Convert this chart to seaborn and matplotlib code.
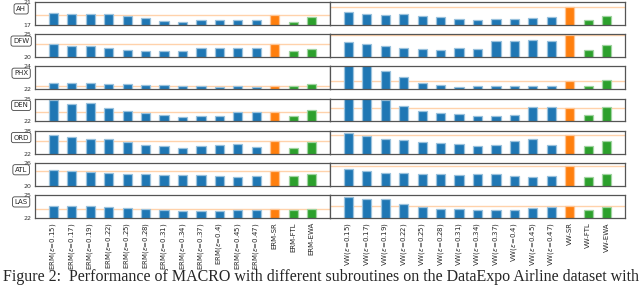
import matplotlib
matplotlib.use("Agg")
import matplotlib.pyplot as plt
import seaborn as sns
import numpy as np
from matplotlib.colors import to_rgb

sns.set_style("white")
plt.rcParams['font.family'] = ['DejaVu Sans']
plt.rcParams['mathtext.fontset'] = 'dejavusans'

eps = ["0.15", "0.17", "0.19", "0.22", "0.25", "0.28", "0.31", "0.34", "0.37", "0.4", "0.45", "0.47"]
erm_labels = ["ERM($\\epsilon$=" + e + ")" for e in eps] + ["ERM-SR", "ERM-FTL", "ERM-EWA"]
vw_labels = ["VW($\\epsilon$=" + e + ")" for e in eps] + ["VW-SR", "VW-FTL", "VW-EWA"]

airports = ["AH", "DFW", "PHX", "DEN", "ORD", "ATL", "LAS"]
ylims = [(17, 21), (20, 25), (22, 24), (22, 25), (22, 28), (20, 26), (22, 25)]

ERM_AH = [19.0, 18.89, 18.89, 18.89, 18.6, 18.2, 17.74, 17.57, 17.8, 17.8, 17.8, 17.86, 18.8, 17.57, 18.31]
VW_AH = [19.29, 18.89, 18.77, 18.83, 18.6, 18.43, 18.03, 17.8, 18.09, 18.09, 18.2, 18.31, 20.17, 17.86, 18.49]
ERM_DFW = [22.79, 22.43, 22.43, 21.93, 21.57, 21.43, 21.43, 21.29, 21.93, 21.93, 22.07, 22.07, 22.79, 21.29, 21.86]
VW_DFW = [23.21, 22.93, 22.5, 22.07, 21.79, 21.57, 21.93, 21.86, 23.43, 23.57, 23.64, 23.57, 24.85, 21.64, 22.64]
ERM_PHX = [22.56, 22.51, 22.51, 22.48, 22.42, 22.39, 22.34, 22.28, 22.31, 22.23, 22.25, 22.23, 22.32, 22.28, 22.42]
VW_PHX = [24.6, 24.4, 23.61, 23.04, 22.59, 22.34, 22.23, 22.28, 22.25, 22.25, 22.25, 22.25, 22.71, 22.28, 22.82]
ERM_DEN = [24.79, 24.32, 24.45, 23.77, 23.39, 23.06, 22.84, 22.63, 22.68, 22.68, 23.18, 23.18, 23.18, 22.68, 23.44]
VW_DEN = [25.5, 25.3, 24.75, 23.99, 23.31, 23.06, 22.97, 22.76, 22.72, 22.8, 23.86, 23.86, 23.8, 22.8, 23.86]
ERM_ORD = [26.96, 26.35, 25.91, 25.83, 25.13, 24.26, 23.91, 23.57, 23.91, 24.26, 24.43, 23.83, 25.22, 23.57, 24.96]
VW_ORD = [27.48, 26.6, 25.83, 25.48, 24.96, 24.7, 24.43, 23.91, 24.26, 25.22, 25.74, 24.17, 26.95, 24.0, 25.22]
ERM_ATL = [24.11, 23.94, 23.68, 23.34, 23.17, 23.08, 22.74, 22.83, 22.83, 22.49, 22.4, 22.49, 23.77, 22.49, 23.17]
VW_ATL = [24.37, 23.77, 23.34, 23.26, 23.17, 23.08, 22.91, 23.08, 23.08, 22.66, 22.4, 22.49, 25.14, 22.4, 23.08]
ERM_LAS = [23.54, 23.58, 23.54, 23.46, 23.33, 23.21, 23.04, 22.96, 22.96, 22.96, 23.04, 23.08, 23.13, 23.0, 23.21]
VW_LAS = [24.71, 24.46, 24.42, 23.83, 23.5, 23.21, 23.13, 23.08, 23.08, 23.04, 23.33, 23.42, 23.52, 23.08, 23.5]

erm_rows = [ERM_AH, ERM_DFW, ERM_PHX, ERM_DEN, ERM_ORD, ERM_ATL, ERM_LAS]
vw_rows = [VW_AH, VW_DFW, VW_PHX, VW_DEN, VW_ORD, VW_ATL, VW_LAS]

blue, orange, green = "#1f77b4", "#ff7f0e", "#2ca02c"
bar_colors = [blue] * 12 + [orange, green, green]


def lighten(c, f=0.55):
    r, g, b = to_rgb(c)
    return (r + (1 - r) * f, g + (1 - g) * f, b + (1 - b) * f)


fig = plt.figure(figsize=(6.4, 2.86), dpi=100)
gs = fig.add_gridspec(7, 2, left=35 / 640, right=625 / 640, top=1 - 2 / 286,
                      bottom=1 - 218 / 286, wspace=0, hspace=0.4)

for i, ap in enumerate(airports):
    lo, hi = ylims[i]
    for j, (vals, labels) in enumerate([(erm_rows[i], erm_labels), (vw_rows[i], vw_labels)]):
        ax = fig.add_subplot(gs[i, j])
        sns.barplot(x=labels, y=vals, hue=labels, palette=bar_colors, legend=False,
                    width=0.5, ax=ax, saturation=1)
        for p, c in zip(ax.patches, bar_colors):
            p.set_edgecolor(lighten(c))
            p.set_linewidth(0.9)
        ax.axhline(vals[12], color=orange, alpha=0.35, lw=1, zorder=0.5)
        ax.set_xlim(-1, 15)
        ax.set_ylim(lo, hi)
        ax.set_ylabel("")
        for s in ax.spines.values():
            s.set_color("#555555")
            s.set_linewidth(0.9)
        if j == 0:
            ax.set_yticks([lo, hi])
            ax.set_yticklabels([str(lo), str(hi)])
            ax.tick_params(axis='y', labelsize=4.5, length=1.5, pad=1, colors="#333333")
            ax.text(-0.047, 0.7, ap, transform=ax.transAxes, ha='center', va='center',
                    fontsize=5, bbox=dict(boxstyle="round,pad=0.3", fc="white",
                                          ec="#444444", lw=0.6))
        else:
            ax.set_yticks([])
        if i == len(airports) - 1:
            ax.tick_params(axis='x', labelsize=5, rotation=90, length=1.5, pad=1.5)
        else:
            ax.set_xticks([])

fig.text(0.004, 0.016, "Figure 2:  Performance of MACRO with different subroutines on the DataExpo Airline dataset with",
         family="Liberation Serif", fontsize=11.5, va="baseline", ha="left")

fig.savefig("out.png", dpi=100)
